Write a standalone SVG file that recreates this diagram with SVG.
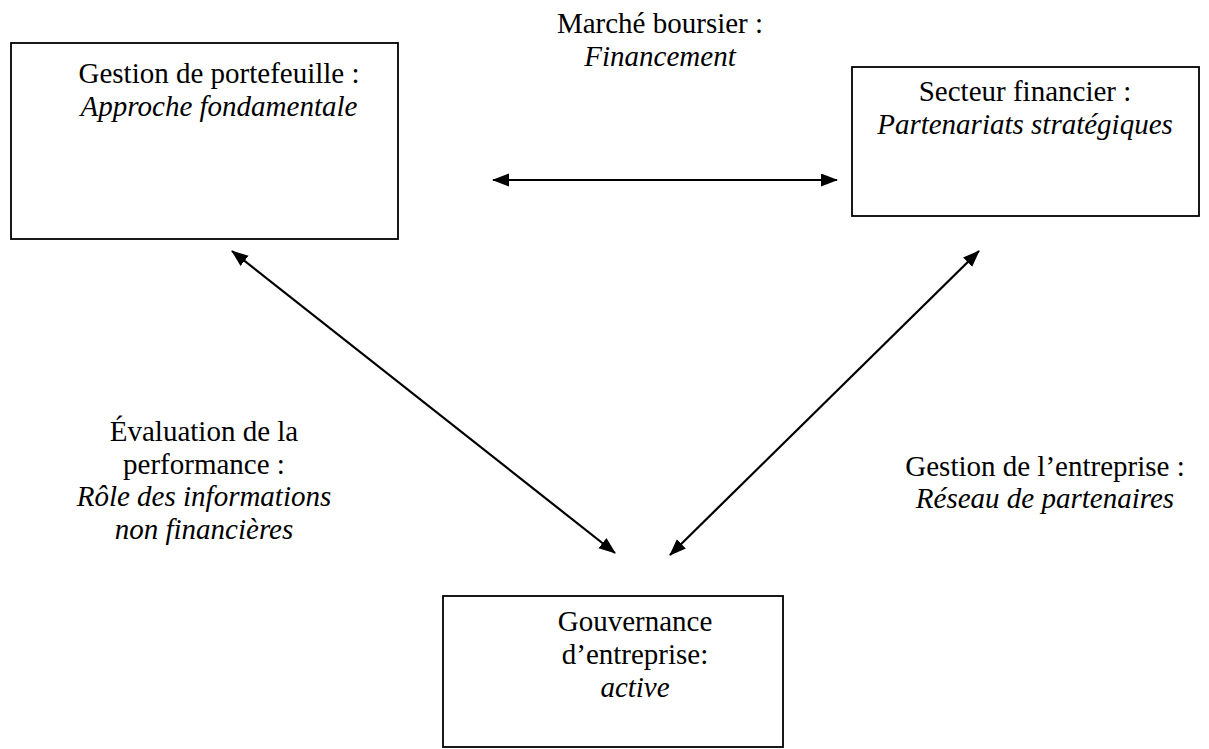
<svg xmlns="http://www.w3.org/2000/svg" width="1209" height="749" viewBox="0 0 1209 749">
<style>
.box{fill:#fff;stroke:#000;stroke-width:1.8}
.t{font-family:"Liberation Serif","Times New Roman",serif;font-size:29px;fill:#000;text-anchor:middle}
.i{font-style:italic}
.c{stroke:#000;stroke-width:2.2;fill:none;marker-start:url(#ah);marker-end:url(#ah)}
</style>
<defs>
<marker id="ah" markerUnits="userSpaceOnUse" markerWidth="18" markerHeight="14" refX="16" refY="6.5" orient="auto-start-reverse" viewBox="0 0 18 14">
<path d="M0,0 L17,6.5 L0,13 z" fill="#000"/>
</marker>
</defs>
<rect width="1209" height="749" fill="#fff"/>
<g id="n1">
<rect class="box" x="11" y="43" width="387" height="196"/>
<text class="t" x="219" y="83">Gestion de portefeuille :</text>
<text class="t i" x="219" y="116">Approche fondamentale</text>
</g>
<g id="n2">
<rect class="box" x="852" y="67" width="347" height="149"/>
<text class="t" x="1025" y="101">Secteur financier :</text>
<text class="t i" x="1025" y="134">Partenariats stratégiques</text>
</g>
<g id="n3">
<rect class="box" x="443" y="596" width="340" height="151"/>
<text class="t" x="635" y="631">Gouvernance</text>
<text class="t" x="635" y="664">d’entreprise:</text>
<text class="t i" x="635" y="697">active</text>
</g>
<g id="connectors">
<line class="c" x1="493" y1="180" x2="837" y2="180"/>
<line class="c" x1="232" y1="251" x2="615" y2="553"/>
<line class="c" x1="979" y1="251" x2="670" y2="555"/>
</g>
<g id="labels">
<text class="t" x="660" y="33">Marché boursier :</text>
<text class="t i" x="660" y="66">Financement</text>
<text class="t" x="204" y="441">Évaluation de la</text>
<text class="t" x="204" y="474">performance :</text>
<text class="t i" x="204" y="506">Rôle des informations</text>
<text class="t i" x="204" y="539">non financières</text>
<text class="t" x="1045" y="476">Gestion de l’entreprise :</text>
<text class="t i" x="1045" y="508">Réseau de partenaires</text>
</g>
</svg>
